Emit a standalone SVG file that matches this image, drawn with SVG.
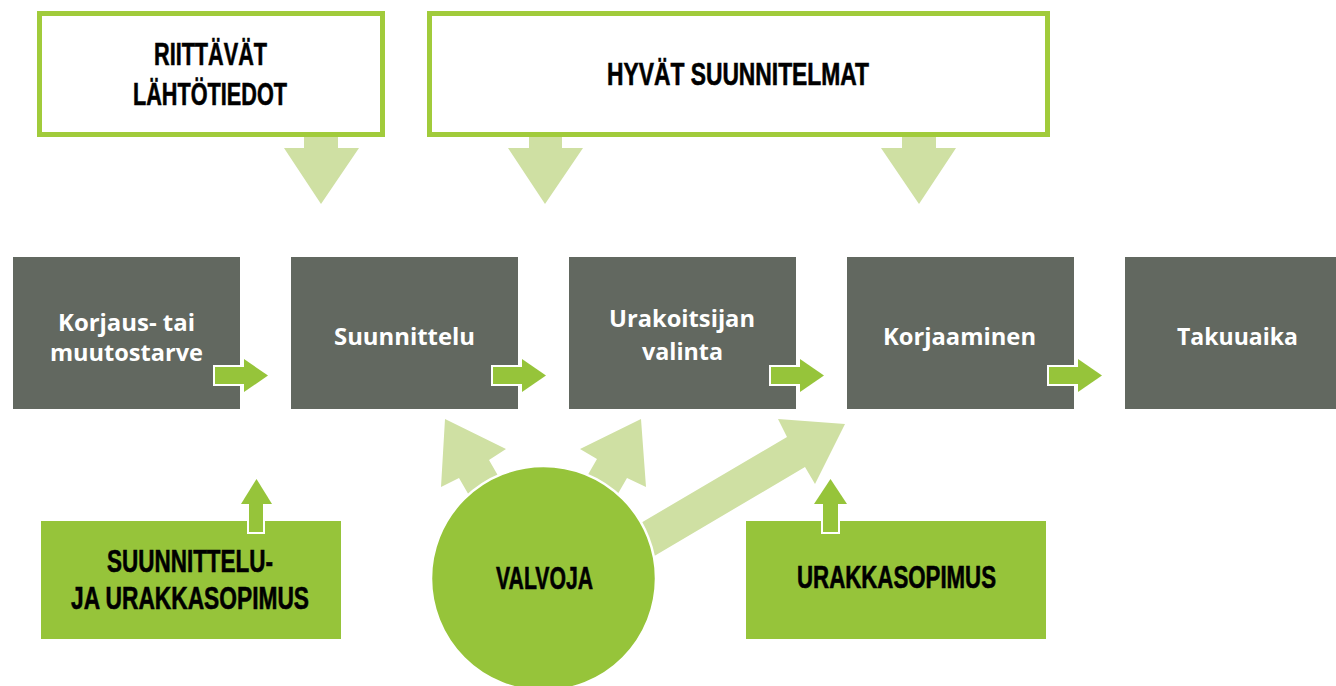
<svg xmlns="http://www.w3.org/2000/svg" width="1336" height="686" viewBox="0 0 1336 686">
  <style>
    .topbox { fill: #ffffff; stroke: #A1CB3B; stroke-width: 5; }
    .proc { fill: #626860; }
    .green { fill: #96C43A; }
    .light { fill: #CFE0A3; }
    .shaft { fill: #96C43A; stroke: #ffffff; stroke-width: 2; }
    .lbl { font-family: "Open Sans", "Noto Sans", "DejaVu Sans", sans-serif; font-weight: 700; font-size: 24px; fill: #ffffff; text-anchor: middle; }
    .blk { font-family: "Liberation Sans", Arial, sans-serif; font-weight: 700; font-size: 31px; fill: #000000; stroke: #000000; stroke-width: 0.6; text-anchor: middle; }
  </style>

  <g id="connectors">
    <polygon class="light" points="304,136 338,136 338,148 359,148 321,204 284,148 304,148"/>
    <polygon class="light" points="529,136 562,136 562,148 583,148 545,204 508,148 529,148"/>
    <polygon class="light" points="902,136 936,136 936,148 956,148 919,204 881,148 902,148"/>
    <polygon class="light" points="445,419 506,449 489,460 519,512 489,530 459,478 441,487"/>
    <polygon class="light" points="641,419 646,487 627,478 597,530 567,511 597,459 580,449"/>
    <polygon class="light" points="845,424 815,484 805,467 612,581 600,547 787,437 778,419"/>
  </g>

  <g id="node-riittavat">
    <rect class="topbox" x="39.5" y="13.5" width="343" height="121"/>
    <text class="blk" x="210.5" y="65" textLength="113" lengthAdjust="spacingAndGlyphs">RIITTÄVÄT</text>
    <text class="blk" x="210" y="105" textLength="154" lengthAdjust="spacingAndGlyphs">LÄHTÖTIEDOT</text>
  </g>

  <g id="node-hyvat">
    <rect class="topbox" x="429.5" y="13.5" width="618" height="121"/>
    <text class="blk" x="738" y="85" textLength="262" lengthAdjust="spacingAndGlyphs">HYVÄT SUUNNITELMAT</text>
  </g>

  <g id="node-korjaus">
    <rect class="proc" x="13" y="257" width="227" height="152"/>
    <text class="lbl" x="126.5" y="331" textLength="137" lengthAdjust="spacingAndGlyphs">Korjaus- tai</text>
    <text class="lbl" x="126.5" y="361" textLength="153" lengthAdjust="spacingAndGlyphs">muutostarve</text>
  </g>

  <g id="node-suunnittelu">
    <rect class="proc" x="291" y="257" width="227" height="152"/>
    <text class="lbl" x="404.5" y="345" textLength="141" lengthAdjust="spacingAndGlyphs">Suunnittelu</text>
  </g>

  <g id="node-urakoitsijan">
    <rect class="proc" x="569" y="257" width="227" height="152"/>
    <text class="lbl" x="682" y="327" textLength="146" lengthAdjust="spacingAndGlyphs">Urakoitsijan</text>
    <text class="lbl" x="682.5" y="360" textLength="81" lengthAdjust="spacingAndGlyphs">valinta</text>
  </g>

  <g id="node-korjaaminen">
    <rect class="proc" x="847" y="257" width="227" height="152"/>
    <text class="lbl" x="959.5" y="345" textLength="153" lengthAdjust="spacingAndGlyphs">Korjaaminen</text>
  </g>

  <g id="node-takuuaika">
    <rect class="proc" x="1125" y="257" width="230" height="152"/>
    <text class="lbl" x="1237.5" y="345" textLength="121" lengthAdjust="spacingAndGlyphs">Takuuaika</text>
  </g>

  <g id="flow-arrows">
    <rect class="shaft" x="214" y="366" width="31" height="19"/>
    <polygon class="green" points="244,359 268,375.5 244,392"/>
    <rect class="shaft" x="492" y="366" width="31" height="19"/>
    <polygon class="green" points="522,359 546,375.5 522,392"/>
    <rect class="shaft" x="770" y="366" width="31" height="19"/>
    <polygon class="green" points="800,359 824,375.5 800,392"/>
    <rect class="shaft" x="1048" y="366" width="31" height="19"/>
    <polygon class="green" points="1078,359 1102,375.5 1078,392"/>
  </g>

  <g id="node-suunnittelu-ja-urakkasopimus">
    <rect class="green" x="41" y="521" width="300" height="118"/>
    <rect class="shaft" x="248" y="502" width="16" height="31"/>
    <polygon class="green" points="241,504 256.5,479 272,504"/>
    <text class="blk" x="190" y="572" textLength="166" lengthAdjust="spacingAndGlyphs">SUUNNITTELU-</text>
    <text class="blk" x="190" y="609" textLength="238" lengthAdjust="spacingAndGlyphs">JA URAKKASOPIMUS</text>
  </g>

  <g id="node-urakkasopimus">
    <rect class="green" x="746" y="521" width="300" height="118"/>
    <rect class="shaft" x="822" y="502" width="17" height="31"/>
    <polygon class="green" points="814,504 830.5,479 847,504"/>
    <text class="blk" x="896.5" y="588" textLength="199" lengthAdjust="spacingAndGlyphs">URAKKASOPIMUS</text>
  </g>

  <g id="node-valvoja">
    <circle cx="543.5" cy="578.5" r="112.5" fill="#96C43A" stroke="#ffffff" stroke-width="2.5"/>
    <text class="blk" x="544.5" y="589" textLength="97" lengthAdjust="spacingAndGlyphs">VALVOJA</text>
  </g>
</svg>
